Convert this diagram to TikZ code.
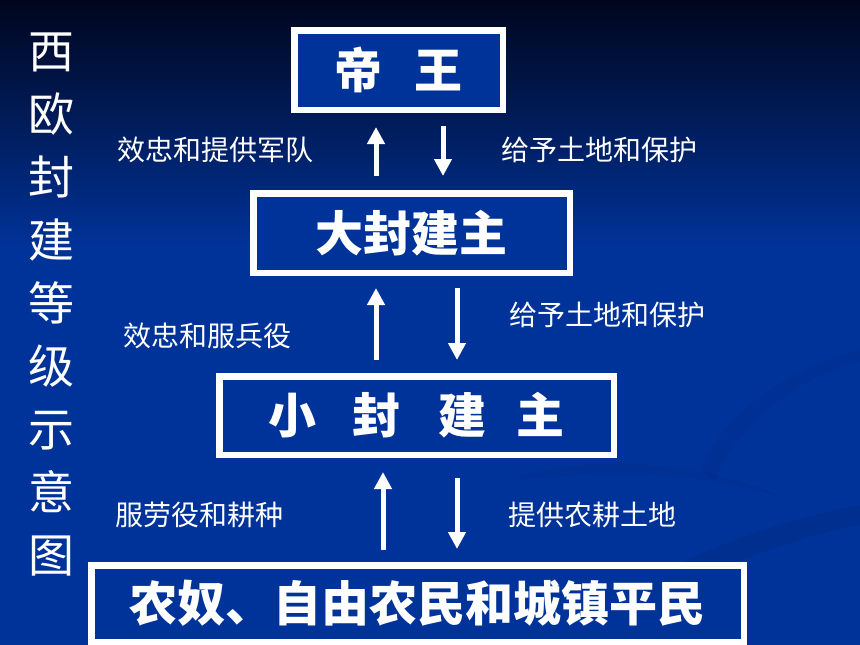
\documentclass[tikz,border=0pt]{standalone}
\usepackage{fontspec}
\setmainfont{Noto Sans CJK SC}
\usetikzlibrary{arrows.meta,calc}
\definecolor{bgblue}{RGB}{0,51,153}
\definecolor{bgtop}{RGB}{0,6,30}
\definecolor{swirl}{RGB}{0,40,130}
\begin{document}
\begin{tikzpicture}[x=1pt,y=-1pt,
  box/.style={draw=white, line width=6.5pt, fill=bgblue, text=white, inner sep=0pt,
    font=\fontsize{48}{48}\selectfont\bfseries},
  lab/.style={text=white, inner sep=0pt, font=\fontsize{28}{28}\selectfont},
  arr/.style={draw=white, line width=5pt, -{Triangle[width=17pt,length=17pt]}},
  ttl/.style={text=white, inner sep=0pt, align=center, font=\fontsize{46}{63}\selectfont}]
% background
\useasboundingbox (0,0) rectangle (860,645);
\fill[bgblue] (0,0) rectangle (860,645);
\shade[top color=bgtop, bottom color=bgblue] (0,0) rectangle (860,250);
% faint swirls
\fill[swirl, opacity=0.35] (560,640) .. controls (650,560) and (780,520) .. (860,505)
  -- (860,525) .. controls (780,540) and (660,585) .. (590,645) -- cycle;
\fill[swirl, opacity=0.25] (700,470) .. controls (720,420) and (780,370) .. (860,350)
  -- (860,362) .. controls (790,380) and (735,430) .. (715,480) -- cycle;
\fill[swirl, opacity=0.25] (520,475) .. controls (600,455) and (700,460) .. (790,500)
  .. controls (700,470) and (610,470) .. (520,480) -- cycle;
% boxes
\node[box, minimum width=208.5pt, minimum height=79.5pt] (b1) at (398.5,70) {帝\hspace{32pt}王};
\node[box, minimum width=316.5pt, minimum height=79.5pt] (b2) at (411.5,233) {大封建主};
\node[box, minimum width=394.5pt, minimum height=78.5pt] (b3) at (416.5,415.5)
  {小\hspace{36pt}封\hspace{38pt}建\hspace{30pt}主};
\node[box, minimum width=652.5pt, minimum height=76.5pt] (b4) at (417.5,603.5) {农奴、自由农民和城镇平民};
% arrow columns
\coordinate (c1) at (376,0);
\coordinate (c2) at (443,0);
\coordinate (c3) at (457,0);
\coordinate (c4) at (383,0);
\draw[arr, shorten <=14pt, shorten >=14pt] (b2.north -| c1) -- (b1.south -| c1);
\draw[arr, shorten <=13pt, shorten >=14pt] (b1.south -| c2) -- (b2.north -| c2);
\draw[arr, shorten <=13pt, shorten >=12pt] (b3.north -| c1) -- (b2.south -| c1);
\draw[arr, shorten <=12pt, shorten >=13pt] (b2.south -| c3) -- (b3.north -| c3);
\draw[arr, shorten <=12pt, shorten >=14pt] (b4.north -| c4) -- (b3.south -| c4);
\draw[arr, shorten <=20pt, shorten >=13pt] (b3.south -| c3) -- (b4.north -| c3);
% labels
\node[lab] (l1) at (215,150) {效忠和提供军队};
\node[lab] (r1) at (599,150) {给予土地和保护};
\node[lab] (l2) at (207,336) {效忠和服兵役};
\node[lab] (r2) at (607,315) {给予土地和保护};
\node[lab] (l3) at (199.5,515) {服劳役和耕种};
\node[lab] (r3) at (592.5,515) {提供农耕土地};
% title
\node[ttl] (title) at (51,305) {西\\欧\\封\\建\\等\\级\\示\\意\\图};
\end{tikzpicture}
\end{document}
